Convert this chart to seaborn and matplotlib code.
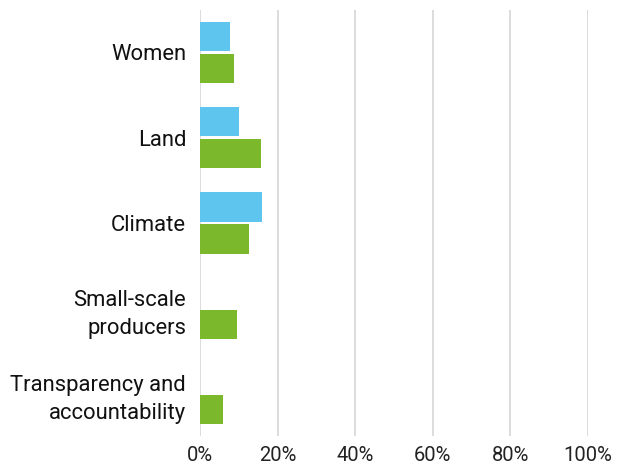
import numpy as np
import matplotlib
matplotlib.use("Agg")
import matplotlib.pyplot as plt
import seaborn as sns
import pandas as pd

# Data
categories = ["Women", "Land", "Climate", "Small-scale\nproducers",
              "Transparency and\naccountability"]
series_blue = [7.7, 10.0, 16.0, 0.0, 0.0]
series_green = [8.8, 15.7, 12.6, 9.5, 5.9]
series_names = ["Series A", "Series B"]
xticks = [0, 20, 40, 60, 80, 100]

df = pd.DataFrame({
    "category": categories * 2,
    "value": series_blue + series_green,
    "series": [series_names[0]] * len(categories) + [series_names[1]] * len(categories),
})

sns.set_style("white")
plt.rcParams["font.family"] = ["Roboto", "DejaVu Sans"]

fig = plt.figure(figsize=(6.19, 4.70), dpi=100)
ax = fig.add_axes([0.323, 0.072, 0.627, 0.907])

sns.barplot(data=df, y="category", x="value", hue="series", orient="h",
            palette=["#5EC5EE", "#7CB82B"], saturation=1, width=0.75, gap=0.09,
            linewidth=0, legend=False, ax=ax)

ax.set_xlim(0, 100)
ax.set_xticks(xticks)
ax.set_xticklabels([f"{t}%" for t in xticks], fontsize=14.5, color="#222222")
ax.tick_params(axis="y", labelsize=15.8, labelcolor="#111111", length=0, pad=10)
ax.tick_params(axis="x", length=0, pad=7)
for lab in ax.get_yticklabels():
    lab.set_horizontalalignment("right")
    lab.set_multialignment("right")
    lab.set_linespacing(1.45)
ax.set_xlabel("")
ax.set_ylabel("")
ax.grid(axis="x", color="#D6D6D6", linewidth=1.2)
ax.set_axisbelow(True)
for s in ax.spines.values():
    s.set_visible(False)

fig.savefig("out.png", dpi=100)
